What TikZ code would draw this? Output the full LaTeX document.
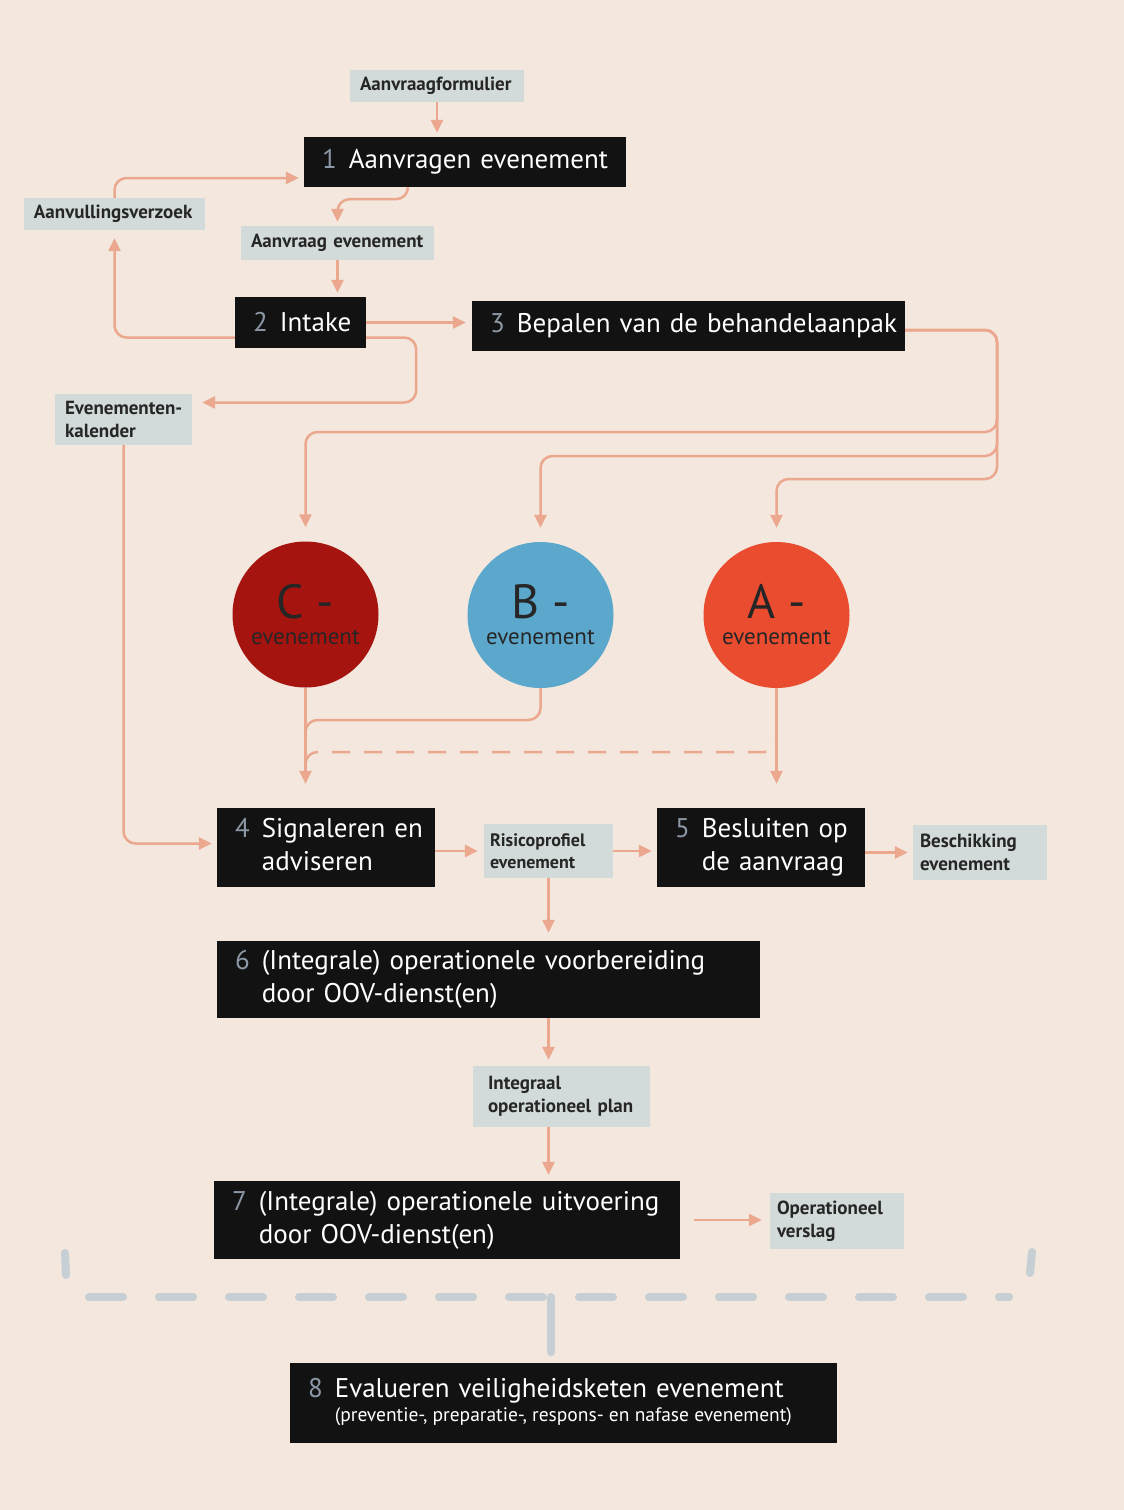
\documentclass[tikz,border=0pt]{standalone}
\usepackage{fontspec}
\setmainfont{PT Sans}
\usetikzlibrary{arrows.meta}

\definecolor{paper}{RGB}{243,231,222}
\definecolor{doccol}{RGB}{211,219,218}
\definecolor{flowcol}{RGB}{236,168,142}
\definecolor{numcol}{RGB}{140,152,165}
\definecolor{bracketcol}{RGB}{198,208,212}
\definecolor{ccol}{RGB}{166,20,16}
\definecolor{bcol}{RGB}{92,168,204}
\definecolor{acol}{RGB}{234,76,48}

\newcommand{\nr}[1]{\textcolor{numcol}{#1}\hspace{0.45em}}

\begin{document}
\begin{tikzpicture}[x=1pt,y=-1pt]
\tikzstyle{process}=[fill=black!93, text=white, inner xsep=18pt, inner ysep=0pt, align=left, font=\fontsize{27}{33}\selectfont]
\tikzstyle{doc}=[fill=doccol, text=black!85, inner xsep=10pt, inner ysep=0pt, align=left, font=\bfseries\fontsize{19}{23}\selectfont]
\tikzstyle{event}=[circle, minimum size=146pt, inner sep=0pt, align=center, text=black!85, font=\fontsize{23}{26}\selectfont]
\tikzstyle{line}=[draw=flowcol, line width=2.5pt, rounded corners=12pt]
\tikzstyle{flow}=[line, -{Triangle[length=13pt,width=12pt]}]
\tikzstyle{bracket}=[draw=bracketcol, line width=8pt, line cap=round]

\useasboundingbox (0,0) rectangle (1124,1510);
\fill[paper] (0,0) rectangle (1124,1510);

% steps
\node[process, text width=286pt, minimum height=50pt] (box1) at (465,162) {\mbox{\nr{1}Aanvragen evenement}};
\node[process, text width=95pt, minimum height=51pt] (intake) at (300.5,322.5) {\mbox{\nr{2}Intake}};
\node[process, text width=397pt, minimum height=50pt] (box3) at (688.5,326) {\mbox{\nr{3}Bepalen van de behandelaanpak}};
\node[process, text width=182pt, minimum height=79pt] (box4) at (326,847.5)
  {\mbox{\nr{4}\begin{tabular}[t]{@{}l@{}}Signaleren en\\adviseren\end{tabular}}};
\node[process, text width=172pt, minimum height=79pt] (box5) at (761,847.5)
  {\mbox{\nr{5}\begin{tabular}[t]{@{}l@{}}Besluiten op\\de aanvraag\end{tabular}}};
\node[process, text width=507pt, minimum height=77pt] (box6) at (488.5,979.5)
  {\mbox{\nr{6}\begin{tabular}[t]{@{}l@{}}(Integrale) operationele voorbereiding\\door OOV-dienst(en)\end{tabular}}};
\node[process, text width=430pt, minimum height=78pt] (box7) at (447,1220)
  {\mbox{\nr{7}\begin{tabular}[t]{@{}l@{}}(Integrale) operationele uitvoering\\door OOV-dienst(en)\end{tabular}}};
\node[process, text width=511pt, minimum height=80pt] (box8) at (563.5,1402.5)
  {\mbox{\nr{8}\begin{tabular}[t]{@{}l@{}}Evalueren veiligheidsketen evenement\\[-9pt]
  \fontsize{19.5}{22}\selectfont\spaceskip=0pt\xspaceskip=0pt (preventie-, preparatie-, respons- en nafase evenement)\end{tabular}}};

% documents
\node[doc, text width=154pt, minimum height=32pt] (formulier) at (437,86) {\mbox{Aanvraagformulier}};
\node[doc, text width=161pt, minimum height=32pt] (aanvulling) at (114.5,214) {\mbox{Aanvullingsverzoek}};
\node[doc, text width=173pt, minimum height=34pt] (aanvraag) at (337.5,243) {\mbox{Aanvraag evenement}};
\node[doc, text width=117pt, minimum height=51pt] (kalender) at (123.5,419.5) {\mbox{Evenementen-}\\kalender};
\node[doc, inner xsep=6pt, text width=117pt, minimum height=54pt, font=\bfseries\fontsize{18}{22}\selectfont] (risico) at (548.5,851) {Risicoprofiel\\evenement};
\node[doc, inner xsep=7pt, text width=120pt, minimum height=55pt] (beschikking) at (980,852.5) {Beschikking\\evenement};
\node[doc, inner xsep=15pt, text width=147pt, minimum height=61pt] (plan) at (561.5,1096.5) {Integraal\\\mbox{operationeel plan}};
\node[doc, inner xsep=7pt, text width=120pt, minimum height=56pt] (verslag) at (837,1221) {Operationeel\\verslag};

% event classes
\node[event, fill=ccol] (Cev) at (305.5,614.5) {{\fontsize{48}{44}\selectfont C -}\\evenement};
\node[event, fill=bcol] (Bev) at (540.5,615) {{\fontsize{48}{44}\selectfont B -}\\evenement};
\node[event, fill=acol] (Aev) at (776.5,615) {{\fontsize{48}{44}\selectfont A -}\\evenement};

% flows
\draw[flow, shorten >=4pt] (formulier.south) -- (formulier.south |- box1.north);
\draw[flow, shorten >=4pt] ([xshift=-57pt]box1.south) -- ++(0,12) -| (aanvraag.north);
\draw[flow, shorten >=4pt] (aanvraag.south) -- (aanvraag.south |- intake.north);
\draw[flow, shorten >=8pt] ([yshift=-15pt]intake.west) -| (aanvulling.south);
\draw[flow, shorten >=5pt] (aanvulling.north) |- ([yshift=-16pt]box1.west);
\draw[flow, shorten >=6pt] (intake.east) -- (intake.east -| box3.west);
\draw[flow, shorten >=10pt] ([yshift=-15pt]intake.east) -- ++(50,0) |- ([yshift=17pt]kalender.east);
\draw[flow, shorten >=5pt] (kalender.south) |- ([yshift=4pt]box4.west);

\draw[flow, shorten >=14pt] ([yshift=-4pt]box3.east) -| (997,432) -| (Cev.north);
\draw[flow, shorten >=14pt] ([yshift=-4pt]box3.east) -| (997,456) -| (Bev.north);
\draw[flow, shorten >=14pt] ([yshift=-4pt]box3.east) -| (997,479) -| (Aev.north);

\draw[flow, shorten >=24pt] (Cev.south) -- (Cev.south |- box4.north);
\draw[line] (Bev.south) |- (305.5,720) -- (305.5,748);
\draw[flow, shorten >=24pt] (Aev.south) -- (Aev.south |- box5.north);
\draw[line, dash pattern=on 18pt off 14pt] (776.5,725) |- (305.5,752) -- (305.5,775);

\draw[flow, shorten >=6pt] (box4.east |- risico.west) -- (risico.west);
\draw[flow, shorten >=5pt] (risico.east) -- (risico.east -| box5.west);
\draw[flow, shorten >=5pt] (box5.east |- beschikking.west) -- (beschikking.west);
\draw[flow, shorten >=8pt] (risico.south) -- (risico.south |- box6.north);
\draw[flow, shorten >=6pt] (risico.south |- box6.south) -- (risico.south |- plan.north);
\draw[flow, shorten >=6pt] (risico.south |- plan.south) -- (risico.south |- box7.north);
\draw[flow, shorten >=8pt] ([xshift=14pt]box7.east) -- (box7.east -| verslag.west);

% evaluation bracket
\draw[bracket] (65,1253) -- (66,1275);
\draw[bracket] (1032,1252) -- (1030,1273);
\draw[bracket, dash pattern=on 34pt off 36pt] (89,1297) -- (1009,1297);
\coordinate (tee) at (551,1297);
\draw[bracket, shorten >=10pt] (tee) -- (tee |- box8.north);

\end{tikzpicture}
\end{document}
